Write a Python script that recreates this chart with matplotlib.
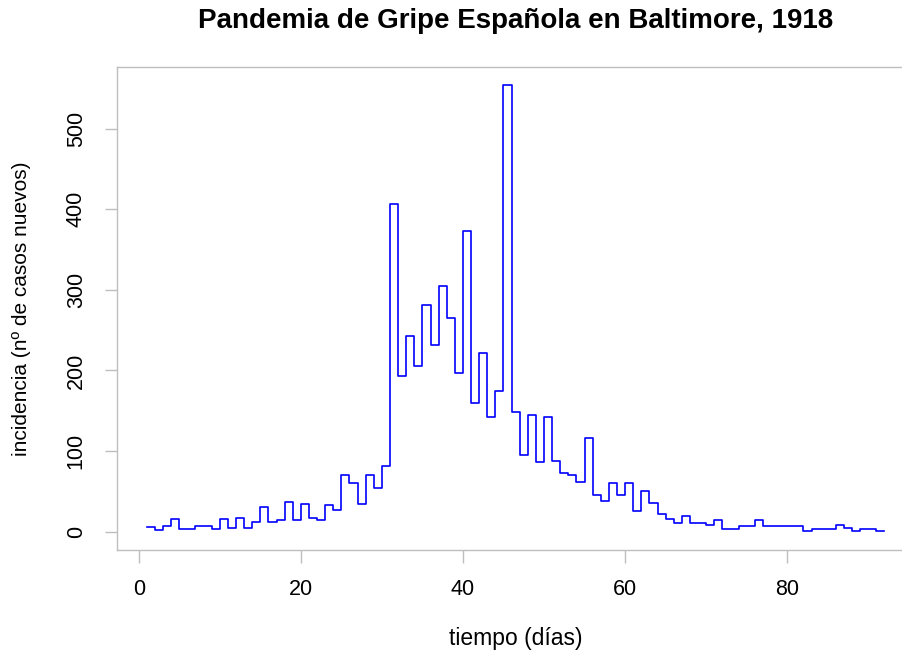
import matplotlib
matplotlib.use("Agg")
import matplotlib.pyplot as plt
import numpy as np

# daily new cases, days 1..92
dias = np.arange(1, 93)
casos = [6, 2, 7, 16, 3, 3, 7, 7, 3, 16,
         5, 17, 5, 12, 31, 12, 15, 37, 14, 34,
         17, 15, 33, 27, 70, 60, 34, 70, 54, 81,
         407, 193, 243, 205, 281, 231, 305, 265, 197, 373,
         159, 222, 142, 174, 554, 149, 95, 145, 86, 142,
         88, 73, 70, 62, 116, 45, 38, 60, 46, 60,
         26, 51, 35, 22, 16, 11, 19, 11, 11, 8,
         14, 3, 3, 7, 7, 14, 7, 7, 7, 7,
         7, 1, 3, 3, 3, 8, 4, 1, 3, 3,
         1, 1]
xticks = [0, 20, 40, 60, 80]
yticks = [0, 100, 200, 300, 400, 500]

plt.rcParams['font.family'] = ['Liberation Sans', 'DejaVu Sans']
gris = '#bebebe'

fig = plt.figure(figsize=(9.03, 6.52), dpi=100)
# plot region runs past the right edge, like the R device crop
ax = fig.add_axes([117.3/903, (652-549.5)/652, (914-117.3)/903, (549.5-67.3)/652])

ax.step(dias, casos, where='post', color='blue', lw=1.2)

rx = dias.max() - dias.min()
ax.set_xlim(dias.min() - 0.04*rx, dias.max() + 0.04*rx)
ax.set_ylim(0 - 0.04*max(casos), max(casos) + 0.04*max(casos))

for s in ax.spines.values():
    s.set_color(gris)
    s.set_linewidth(1.0)

ax.set_xticks(xticks)
ax.set_yticks(yticks)
ax.tick_params(axis='both', direction='out', length=9, width=1.0, color=gris,
               labelsize=15.5)
ax.tick_params(axis='x', pad=12)
ax.tick_params(axis='y', pad=13)
for lab in ax.get_yticklabels():
    lab.set_rotation(90)
    lab.set_va('center')

ax.set_xlabel('tiempo (días)', fontsize=16.5, labelpad=20)
ax.set_ylabel('incidencia (nº de casos nuevos)', fontsize=15, labelpad=25)
ax.set_title('Pandemia de Gripe Española en Baltimore, 1918',
             fontsize=20, fontweight='bold', pad=28)

fig.savefig('out.png', dpi=100)
